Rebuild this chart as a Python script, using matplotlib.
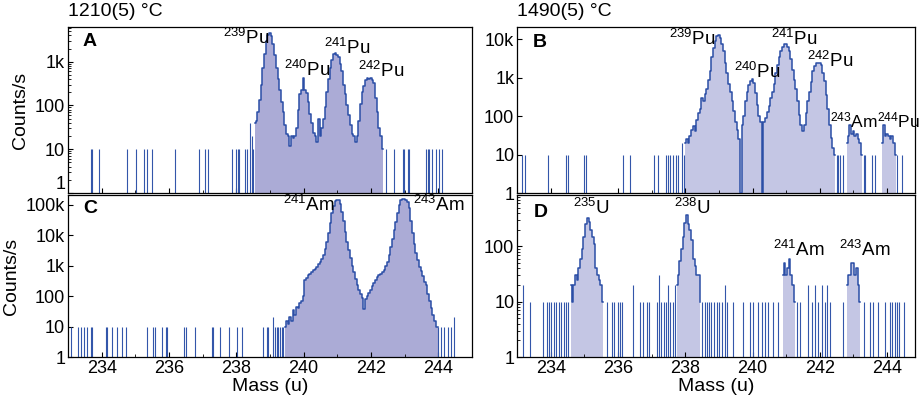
import numpy as np
import matplotlib
matplotlib.use('Agg')
import matplotlib.pyplot as plt
from matplotlib.ticker import FixedLocator, FixedFormatter, MultipleLocator, LogLocator, NullFormatter

plt.rcParams['font.family'] = ['Liberation Sans', 'DejaVu Sans']
plt.rcParams['mathtext.fontset'] = 'custom'
plt.rcParams['mathtext.rm'] = 'Liberation Sans'
plt.rcParams['mathtext.it'] = 'Liberation Sans:italic'
plt.rcParams['mathtext.bf'] = 'Liberation Sans:bold'

# y axis ticks
y_ticks = [1, 10, 100, 1000, 10000, 100000]
y_tick_labels = ['1', '10', '100', '1k', '10k', '100k']

# --- panel A: 1210 C, Pu peaks (0.05 u bins) ---
a_start, a_stop = 238.55, 242.35
a_counts = [40, 45, 70, 130, 300, 730, 1500, 3000, 4000, 4600,
            3800, 2600, 1400, 730, 400, 220, 120, 70, 35, 22,
            20, 12, 20, 18, 20, 30, 77, 180, 230, 420,
            220, 190, 120, 65, 40, 23, 20, 15, 50, 20,
            30, 50, 90, 200, 400, 730, 1100, 1500, 1600, 1450,
            1300, 900, 600, 300, 180, 100, 60, 35, 22, 20,
            15, 20, 45, 110, 200, 280, 380, 420, 400, 430,
            380, 320, 150, 70, 30, 20, 10]
a_noise_mass = [233.67, 233.72, 233.92, 234.76, 235.01, 235.27, 235.35, 235.50, 236.19,
                236.88, 237.08, 237.17, 237.87, 237.99, 238.04, 238.09, 238.26, 238.33,
                238.41, 238.46, 238.51, 242.45, 242.70, 242.94, 242.99, 243.09, 243.14,
                243.64, 243.69, 243.73, 243.83, 243.93, 244.03, 244.11]
a_noise_counts = [10, 10, 10, 10, 10, 10, 10, 10, 10,
                  10, 10, 10, 10, 10, 10, 10, 10, 10,
                  40, 20, 10, 10, 10, 10, 10, 10, 10,
                  10, 10, 10, 10, 10, 10, 10]
a_labels = ['$^{239}$Pu', '$^{240}$Pu', '$^{241}$Pu', '$^{242}$Pu']
a_label_x = [237.61, 239.41, 240.60, 241.63]
a_label_y = [3500, 640, 2050, 610]

# --- panel B: 1490 C, Pu + Am peaks ---
b_start, b_stop = 238.00, 242.45
b_counts = [20, 25, 20, 30, 45, 55, 40, 80, 120, 150,
            300, 250, 380, 500, 900, 1500, 3500, 6000, 9000, 12000,
            13000, 11000, 7500, 5000, 2500, 1300, 700, 420, 250, 140,
            70, 45, 25, 1, 60, 100, 250, 420, 650, 850,
            950, 750, 400, 200, 100, 70, 1, 70, 90, 130,
            180, 300, 420, 700, 1300, 2200, 3500, 5000, 6500, 7600,
            7400, 6500, 5000, 3000, 1600, 900, 500, 250, 110, 60,
            40, 60, 120, 250, 420, 800, 1500, 2000, 2400, 2500,
            2400, 2200, 1300, 850, 350, 150, 60, 27, 15, 10]
b_am_start, b_am_stop = 242.80, 243.25
b_am_counts = [20, 30, 60, 35, 40, 30, 35, 25, 20, 10]
b_pu_start, b_pu_stop = 243.85, 244.25
b_pu_counts = [20, 60, 30, 35, 30, 25, 30, 20, 10]
b_noise_mass = [233.16, 233.23, 233.92, 234.45, 234.52, 234.98, 235.04, 236.15, 236.35,
                237.07, 237.19, 237.42, 237.49, 237.56, 237.64, 237.72, 237.79, 237.89,
                237.96, 242.50, 242.55, 242.60, 242.70, 243.30, 243.35, 243.54, 243.64,
                244.29, 244.44]
b_noise_counts = [10, 10, 10, 10, 10, 10, 10, 10, 10,
                  10, 10, 10, 10, 10, 10, 10, 10, 20,
                  10, 10, 10, 10, 10, 10, 10, 10, 10,
                  10, 10]
b_labels = ['$^{239}$Pu', '$^{240}$Pu', '$^{241}$Pu', '$^{242}$Pu', '$^{243}$Am', '$^{244}$Pu']
b_label_x = [237.51, 239.45, 240.55, 241.62, 242.30, 243.71]
b_label_y = [10300, 1400, 10300, 2750, 79, 79]

# --- panel C: Am peaks ---
c_start, c_stop = 239.45, 244.00
c_counts = [10, 15, 12, 20, 15, 36, 25, 45, 40, 58, 70,
            100, 340, 400, 480, 550, 620, 700, 800, 900, 1100,
            1300, 1700, 2200, 3500, 6000, 12000, 25000, 55000, 90000, 130000,
            150000, 145000, 110000, 60000, 30000, 13000, 6000, 3300, 1800, 1000,
            600, 360, 230, 160, 120, 90, 38, 80, 100, 130,
            160, 220, 280, 340, 420, 480, 550, 600, 750, 1000,
            1300, 2200, 4000, 7500, 15000, 28000, 55000, 100000, 140000, 155000,
            155000, 150000, 120000, 80000, 30000, 12000, 5000, 2600, 1500, 900,
            650, 450, 300, 230, 120, 70, 40, 25, 15, 10,
            10]
c_noise_mass = [233.08, 233.30, 233.40, 233.48, 233.56, 233.67, 233.72, 234.12, 234.17,
                234.32, 234.46, 234.61, 234.71, 235.35, 235.53, 235.60, 235.79, 235.92,
                235.94, 236.44, 236.52, 236.78, 237.27, 237.32, 237.52, 237.77, 238.01,
                238.16, 238.80, 238.90, 238.95, 239.10, 239.15, 239.20, 239.25, 239.30,
                239.35, 239.39, 243.98, 244.08, 244.18, 244.28, 244.38, 244.47]
c_noise_counts = [10, 10, 10, 10, 10, 10, 10, 10, 10,
                  10, 10, 10, 10, 10, 10, 10, 10, 10,
                  10, 10, 10, 10, 10, 10, 10, 10, 10,
                  10, 10, 10, 10, 20, 10, 10, 10, 10,
                  10, 10, 10, 10, 10, 10, 10, 20]
c_labels = ['$^{241}$Am', '$^{243}$Am']
c_label_x = [239.38, 243.26]
c_label_y = [98000, 98000]

# --- panel D: U + Am peaks ---
d_u235_start, d_u235_stop = 234.60, 235.55
d_u235_counts = [20, 10, 20, 30, 25, 40, 60, 90, 150, 260,
                 330, 280, 200, 150, 110, 40, 30, 25, 20, 10]
d_u238_start, d_u238_stop = 237.75, 238.45
d_u238_counts = [20, 30, 55, 90, 150, 270, 375, 260, 200, 130,
                 60, 45, 30, 30, 10]
d_am241_start, d_am241_stop = 240.90, 241.25
d_am241_counts = [30, 50, 30, 40, 60, 30, 20, 10]
d_am243_start, d_am243_stop = 242.80, 243.20
d_am243_counts = [20, 30, 30, 50, 50, 30, 40, 20, 10]
d_noise_mass = [233.18, 233.38, 233.77, 233.89, 233.95, 234.02, 234.09, 234.17, 234.25,
                234.32, 234.39, 234.45, 234.52, 235.66, 235.81, 235.87, 236.00, 236.07,
                236.13, 236.45, 236.65, 236.73, 236.87, 236.93, 237.15, 237.21, 237.29,
                237.36, 237.42, 237.49, 237.56, 237.64, 237.69, 238.51, 238.58, 238.65,
                238.71, 238.78, 238.86, 238.93, 239.01, 239.08, 239.18, 239.23, 239.41,
                239.72, 239.92, 240.02, 240.17, 240.27, 240.37, 240.47, 240.62, 240.77,
                241.31, 241.41, 241.66, 241.76, 241.86, 241.96, 242.06, 242.15, 242.20,
                242.30, 242.70, 243.30, 243.49, 243.59, 243.74, 243.94, 244.09, 244.14,
                244.24, 244.29, 244.34, 244.49]
d_noise_counts = [20, 10, 10, 10, 10, 10, 10, 10, 10,
                  10, 10, 10, 10, 10, 10, 10, 10, 10,
                  10, 20, 10, 10, 10, 10, 10, 30, 10,
                  10, 10, 20, 10, 10, 20, 10, 10, 10,
                  10, 10, 10, 10, 10, 10, 20, 10, 10,
                  10, 10, 10, 10, 10, 10, 10, 10, 10,
                  10, 10, 20, 10, 20, 10, 20, 10, 20,
                  10, 10, 10, 10, 10, 10, 10, 10, 10,
                  10, 10, 10, 10]
d_labels = ['$^{235}$U', '$^{238}$U', '$^{241}$Am', '$^{243}$Am']
d_label_x = [234.65, 237.66, 240.61, 242.57]
d_label_y = [500, 500, 87, 87]

line_col = '#2b4ea6'
noise_col = '#3356aa'
fill_dark = '#ababd6'
fill_light = '#c4c6e4'
label_size = 13.5


def draw_peak(ax, start, stop, counts, fill):
    mass = np.linspace(start, stop, len(counts))
    ax.fill_between(mass, 1, counts, step='mid', color=fill, lw=0, zorder=1)
    ax.step(mass, counts, where='mid', color=line_col, lw=1.1, zorder=3)


def style_axes(ax, ymax, nlab, xlabels):
    ax.set_yscale('log')
    ax.set_ylim(1, ymax)
    ax.yaxis.set_major_locator(FixedLocator(y_ticks[:nlab]))
    ax.yaxis.set_major_formatter(FixedFormatter(y_tick_labels[:nlab]))
    ax.yaxis.set_minor_locator(LogLocator(base=10, subs=np.arange(2, 10)))
    ax.yaxis.set_minor_formatter(NullFormatter())
    ax.xaxis.set_major_locator(MultipleLocator(2))
    ax.xaxis.set_minor_locator(MultipleLocator(1))
    ax.tick_params(which='both', direction='in', labelsize=13, pad=2)
    ax.tick_params(which='major', length=3.5, width=0.8)
    ax.tick_params(which='minor', length=2, width=0.6)
    if not xlabels:
        ax.tick_params(axis='x', labelbottom=False)
    for s in ax.spines.values():
        s.set_linewidth(0.9)


fig = plt.figure(figsize=(9.2, 4.03), dpi=100)
axA = fig.add_axes([0.0739, 0.521, 0.439, 0.412])
axB = fig.add_axes([0.562, 0.521, 0.4326, 0.412])
axC = fig.add_axes([0.0739, 0.114, 0.439, 0.402])
axD = fig.add_axes([0.562, 0.114, 0.4326, 0.402])

# A
axA.vlines(a_noise_mass, 1, a_noise_counts, color=noise_col, lw=0.8, zorder=2)
draw_peak(axA, a_start, a_stop, a_counts, fill_dark)
axA.set_xlim(233, 245)
style_axes(axA, 6200, 4, False)
for t, x, y in zip(a_labels, a_label_x, a_label_y):
    axA.text(x, y, t, fontsize=label_size, ha='left', va='center')

# B
axB.vlines(b_noise_mass, 1, b_noise_counts, color=noise_col, lw=0.8, zorder=2)
draw_peak(axB, b_start, b_stop, b_counts, fill_light)
draw_peak(axB, b_am_start, b_am_stop, b_am_counts, fill_light)
draw_peak(axB, b_pu_start, b_pu_stop, b_pu_counts, fill_light)
axB.set_xlim(233, 244.83)
style_axes(axB, 21000, 5, False)
for i, (t, x, y) in enumerate(zip(b_labels, b_label_x, b_label_y)):
    # the last two labels sit right against the frame edge, a bit smaller
    axB.text(x, y, t, fontsize=label_size if i < 4 else 12.5, ha='left', va='center')

# C
axC.vlines(c_noise_mass, 1, c_noise_counts, color=noise_col, lw=0.8, zorder=2)
draw_peak(axC, c_start, c_stop, c_counts, fill_dark)
axC.set_xlim(233, 245)
style_axes(axC, 210000, 6, True)
for t, x, y in zip(c_labels, c_label_x, c_label_y):
    axC.text(x, y, t, fontsize=label_size, ha='left', va='center')

# D
axD.vlines(d_noise_mass, 1, d_noise_counts, color=noise_col, lw=0.8, zorder=2)
draw_peak(axD, d_u235_start, d_u235_stop, d_u235_counts, fill_light)
draw_peak(axD, d_u238_start, d_u238_stop, d_u238_counts, fill_light)
draw_peak(axD, d_am241_start, d_am241_stop, d_am241_counts, fill_light)
draw_peak(axD, d_am243_start, d_am243_stop, d_am243_counts, fill_light)
axD.set_xlim(233, 244.83)
style_axes(axD, 850, 3, True)
for t, x, y in zip(d_labels, d_label_x, d_label_y):
    axD.text(x, y, t, fontsize=label_size, ha='left', va='center')

# the "1" of panel A is lifted so it clears the "100k" of panel C below it
fig.canvas.draw()
axA.get_yticklabels()[0].set_verticalalignment('bottom')

# panel letters and temperature titles
for ax, letter, lx, ly in [(axA, 'A', 0.037, 0.91), (axB, 'B', 0.04, 0.904),
                           (axC, 'C', 0.037, 0.92), (axD, 'D', 0.043, 0.89)]:
    ax.text(lx, ly, letter, transform=ax.transAxes, fontsize=14,
            fontweight='bold', ha='left', va='center')
axA.text(0, 1.04, '1210(5) °C', transform=axA.transAxes, fontsize=14, ha='left', va='bottom')
axB.text(0, 1.04, '1490(5) °C', transform=axB.transAxes, fontsize=14, ha='left', va='bottom')

axA.set_ylabel('Counts/s', fontsize=14, labelpad=4)
axC.set_ylabel('Counts/s', fontsize=14, labelpad=4)
axC.set_xlabel('Mass (u)', fontsize=14, labelpad=1)
axD.set_xlabel('Mass (u)', fontsize=14, labelpad=1)

fig.savefig('out.png', dpi=100)
